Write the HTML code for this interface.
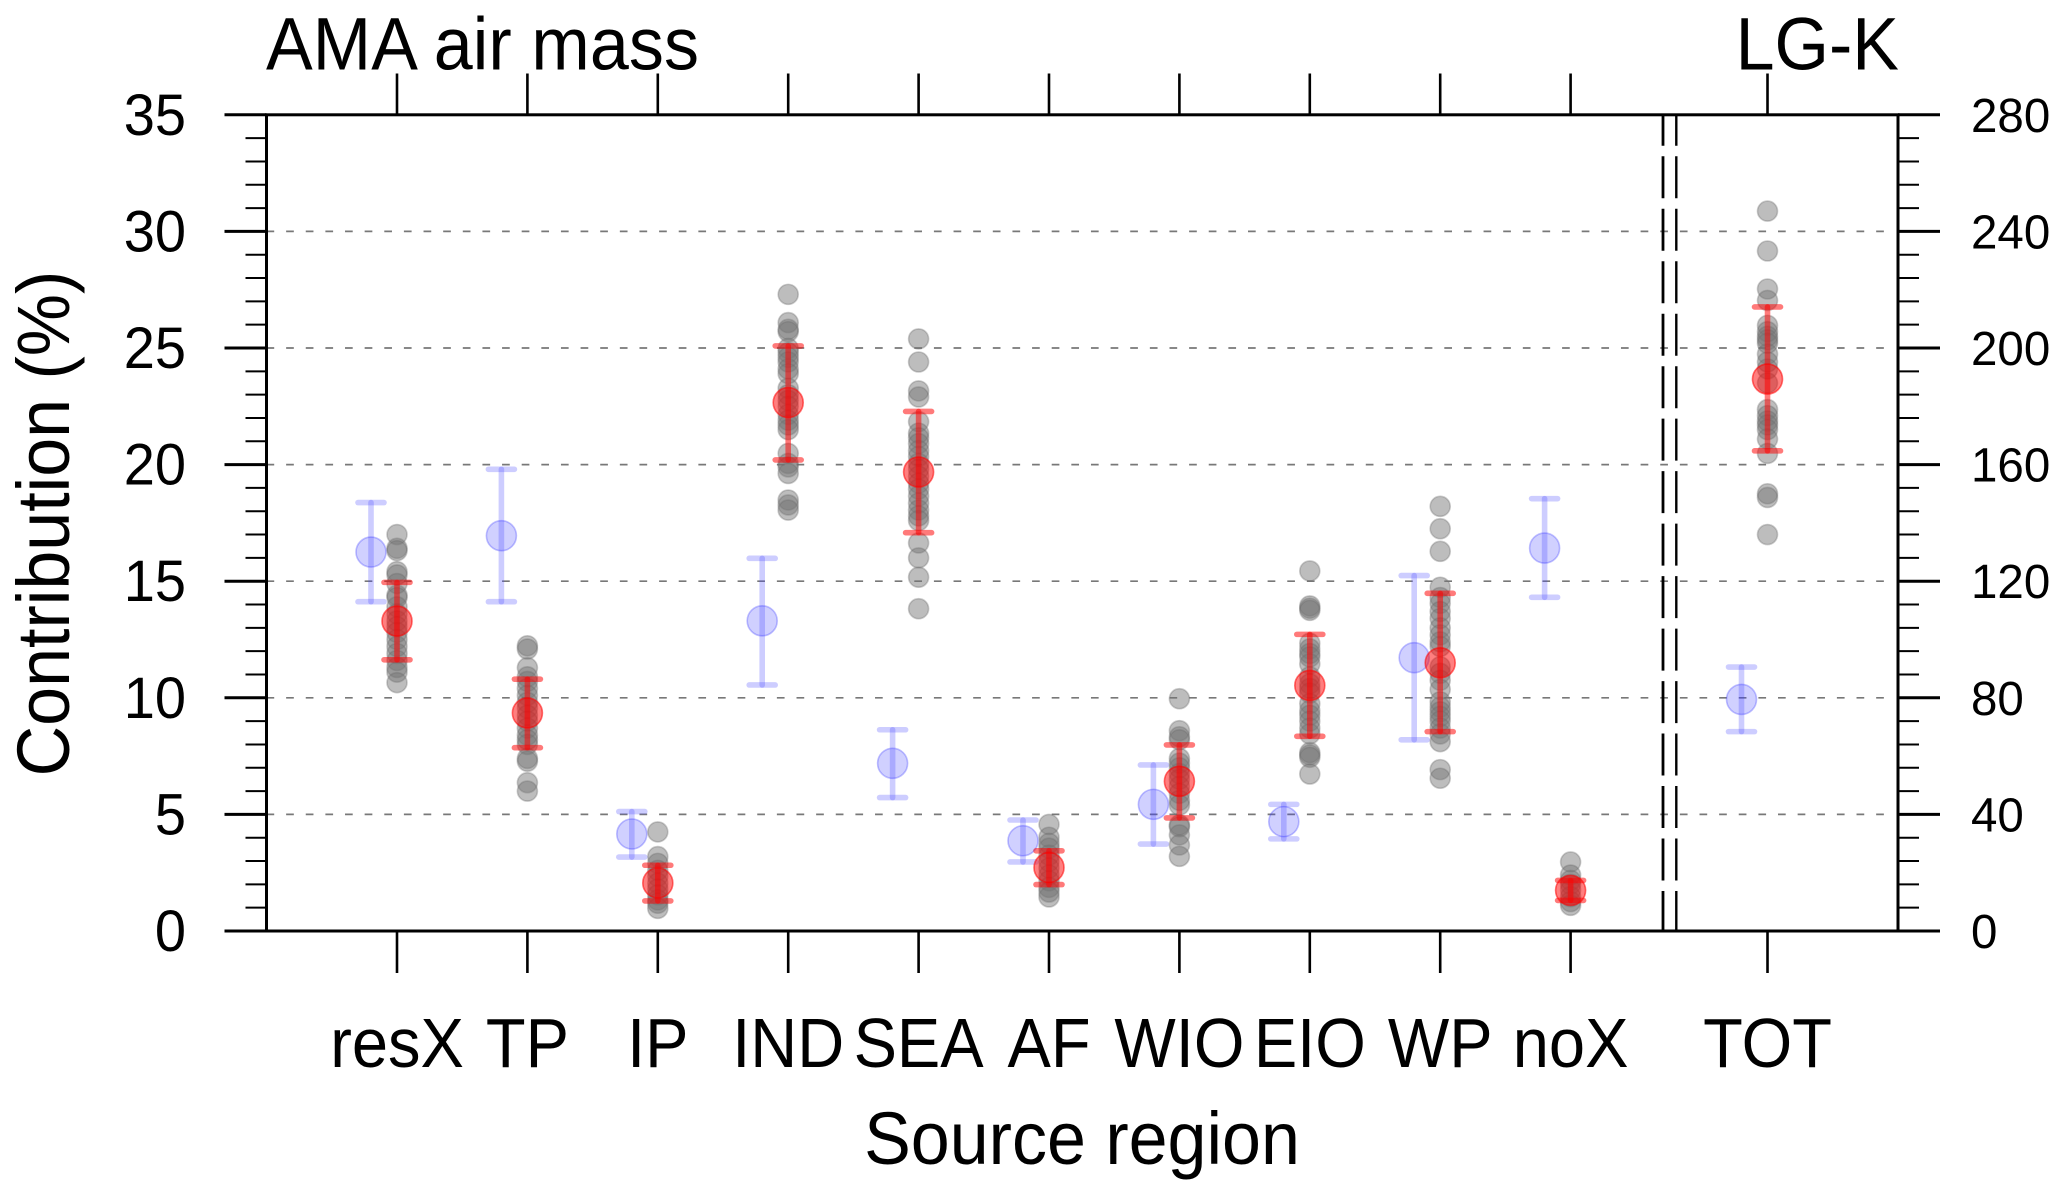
<!DOCTYPE html>
<html lang="en">
<head>
<meta charset="utf-8">
<title>AMA air mass contribution by source region</title>
<style>
  html, body { margin: 0; padding: 0; background: #fff; }
  svg { display: block; font-family: "Liberation Sans", Arial, sans-serif; }
  text { fill: #000; }
</style>
</head>
<body>
<svg id="chart" xmlns="http://www.w3.org/2000/svg" width="2067" height="1198" viewBox="0 0 2067 1198">
  <rect x="0" y="0" width="2067" height="1198" fill="#fff"/>
  <g id="grid"></g>
  <g id="separator"></g>
  <g id="ticks"></g>
  <rect x="266.5" y="114.8" width="1631.5" height="816.2" fill="none" stroke="#000" stroke-width="3"/>
  <g id="labels"></g>
  <g id="ensemble"></g>
  <g id="reference"></g>
  <g id="mean"></g>
  <text transform="translate(266 69.6) scale(1 1.06)" font-size="70" textLength="433" lengthAdjust="spacing">AMA air mass</text>
  <text transform="translate(1899 69.6) scale(1 1.06)" font-size="70" text-anchor="end">LG-K</text>
  <text transform="translate(1082 1164) scale(1 1.06)" font-size="70" text-anchor="middle">Source region</text>
  <text transform="translate(69 523.5) rotate(-90) scale(1 1.06)" font-size="70" text-anchor="middle">Contribution (%)</text>
</svg>
<script>
const categories = ["resX", "TP", "IP", "IND", "SEA", "AF", "WIO", "EIO", "WP", "noX", "TOT"];
const leftTickValues = [0, 5, 10, 15, 20, 25, 30, 35];
const rightTickLabels = ["0", "40", "80", "120", "160", "200", "240", "280"];
const gridValues = [5, 10, 15, 20, 25, 30];

const referenceMeans = [16.25, 16.95, 4.16, 13.3, 7.19, 3.87, 5.43, 4.69, 11.72, 16.42, 9.93];
const referenceLower = [14.12, 14.12, 3.17, 10.55, 5.72, 2.96, 3.73, 3.95, 8.2, 14.31, 8.55];
const referenceUpper = [18.37, 19.8, 5.12, 15.98, 8.63, 4.76, 7.12, 5.43, 15.24, 18.54, 11.32];

const meanValues = [13.29, 9.35, 2.06, 22.66, 19.68, 2.72, 6.42, 10.53, 11.5, 1.74, 23.67];
const meanLower = [11.63, 7.86, 1.29, 20.2, 17.08, 1.99, 4.85, 8.35, 8.55, 1.31, 20.59];
const meanUpper = [14.95, 10.8, 2.82, 25.09, 22.28, 3.44, 7.98, 12.72, 14.48, 2.17, 26.76];

const membersResX = [17.0, 16.41, 16.31, 15.41, 15.27, 14.9, 14.4, 14.3, 13.9, 13.6, 13.3, 13.05, 12.8, 12.5, 12.2, 11.9, 11.6, 11.3, 11.1, 10.65];
const membersTP = [12.23, 12.09, 11.29, 10.9, 10.7, 10.4, 10.1, 9.8, 9.55, 9.25, 9.0, 8.7, 8.4, 8.2, 8.0, 7.4, 7.28, 6.36, 6.0];
const membersIP = [4.25, 3.19, 2.9, 2.6, 2.35, 2.05, 1.8, 1.55, 1.33, 1.19, 0.97];
const membersIND = [27.3, 26.09, 25.8, 25.7, 24.98, 24.8, 24.6, 24.4, 24.1, 23.9, 23.27, 23.0, 22.75, 22.5, 22.15, 21.9, 21.7, 21.5, 20.48, 20.05, 19.9, 19.62, 18.48, 18.27, 18.05];
const membersSEA = [25.39, 24.4, 23.16, 22.9, 21.84, 21.35, 21.15, 20.9, 20.6, 20.35, 20.05, 19.8, 19.5, 19.2, 18.95, 18.65, 18.35, 18.05, 17.8, 17.6, 16.64, 16.0, 15.17, 13.82];
const membersAF = [4.57, 4.02, 3.76, 3.55, 3.25, 2.98, 2.7, 2.4, 2.15, 1.87, 1.67, 1.46];
const membersWIO = [9.96, 8.59, 8.33, 8.2, 7.4, 7.2, 7.0, 6.75, 6.5, 6.2, 5.9, 5.6, 5.4, 4.55, 4.47, 4.12, 3.69, 3.2];
const membersEIO = [15.44, 13.94, 13.84, 13.75, 12.34, 12.1, 11.9, 11.75, 11.45, 10.9, 10.6, 10.4, 10.2, 9.75, 9.45, 9.25, 9.0, 8.7, 8.45, 7.65, 7.55, 7.45, 6.73];
const membersWP = [18.21, 17.25, 16.28, 14.74, 14.3, 14.05, 13.7, 13.4, 13.0, 12.7, 12.4, 12.2, 11.33, 11.05, 10.75, 10.36, 9.83, 9.6, 9.4, 9.2, 9.0, 8.7, 8.45, 8.12, 6.92, 6.55];
const membersNoX = [2.96, 2.4, 2.17, 2.0, 1.76, 1.47, 1.26, 1.1];
const membersTOT = [30.87, 29.16, 27.53, 27.04, 25.97, 25.7, 25.5, 25.35, 25.2, 24.74, 24.4, 24.1, 23.5, 22.36, 22.1, 21.87, 21.7, 21.5, 21.1, 20.48, 18.75, 18.59, 17.0];
const membersByCategory = [membersResX, membersTP, membersIP, membersIND, membersSEA, membersAF, membersWIO, membersEIO, membersWP, membersNoX, membersTOT];

const SVG_NS = "http://www.w3.org/2000/svg";
const plotLeft = 266.5, plotRight = 1898, plotTop = 114.8, plotBottom = 931;
const yMax = 35;
const firstCategoryX = 397, categoryStep = 130.4, totalGapSteps = 0.51, referenceOffset = -26;

function yOf(v) { return plotBottom - (plotBottom - plotTop) * v / yMax; }
function xOf(i) {
  const gap = i === categories.length - 1 ? totalGapSteps : 0;
  return firstCategoryX + categoryStep * (i + gap);
}
function make(tag, parent, attrs, text) {
  const el = document.createElementNS(SVG_NS, tag);
  for (const k in attrs) el.setAttribute(k, attrs[k]);
  if (text !== undefined) el.textContent = text;
  parent.appendChild(el);
  return el;
}

const gridG = document.getElementById("grid");
const sepG = document.getElementById("separator");
const ticksG = document.getElementById("ticks");
const labelsG = document.getElementById("labels");
const ensembleG = document.getElementById("ensemble");
const referenceG = document.getElementById("reference");
const meanG = document.getElementById("mean");

/* grid */
gridValues.forEach(function (v) {
  const el = make("line", gridG, { x1: plotLeft, x2: 1886, y1: yOf(v), y2: yOf(v), stroke: "#787878", "stroke-width": 1.7, "stroke-dasharray": "7.7 11.93" });
  
  
});

/* separator between regions and total */
[[1663, 2.8], [1676.3, 2.4]].forEach(function (s, n) {
  const el = make("line", sepG, { x1: s[0], x2: s[0], y1: plotTop, y2: plotBottom, stroke: "#000", "stroke-width": s[1], "stroke-dasharray": "42 10.48", "stroke-dashoffset": 11 });
  
  
});

/* y ticks: major every 5, minor every 1, both sides */
for (let v = 0; v <= yMax; v++) {
  const major = v % 5 === 0;
  const len = major ? 42 : 21;
  const sw = major ? 3 : 2;
  const left = make("line", ticksG, { x1: plotLeft - len, x2: plotLeft, y1: yOf(v), y2: yOf(v), stroke: "#000", "stroke-width": sw });
  
  
  const right = make("line", ticksG, { x1: plotRight, x2: plotRight + len, y1: yOf(v), y2: yOf(v), stroke: "#000", "stroke-width": sw });
  
  
}

/* y tick labels */
leftTickValues.forEach(function (v, n) {
  const l = make("text", labelsG, { transform: "translate(186 " + (yOf(v) + 20) + ") scale(1 1.04)", "font-size": 56, "text-anchor": "end" }, String(v));
  
  
  const r = make("text", labelsG, { transform: "translate(1971 " + (yOf(v) + 17) + ") scale(1 1.02)", "font-size": 47.5 }, rightTickLabels[n]);
  
  
});

/* x ticks and labels */
categories.forEach(function (c, i) {
  const x = xOf(i);
  const top = make("line", ticksG, { x1: x, x2: x, y1: 73.5, y2: plotTop, stroke: "#000", "stroke-width": 2.6 });
  
  
  const bottom = make("line", ticksG, { x1: x, x2: x, y1: plotBottom, y2: 973, stroke: "#000", "stroke-width": 2.6 });
  
  
  const label = make("text", labelsG, { transform: "translate(" + x + " 1067) scale(1 1.07)", "font-size": 65, "text-anchor": "middle" }, c);
  
  
});

/* ensemble members */
membersByCategory.forEach(function (values, i) {
  values.forEach(function (v, n) {
    const el = make("circle", ensembleG, { cx: xOf(i), cy: yOf(v), r: 10, fill: "rgb(118,118,118)", "fill-opacity": 0.48, stroke: "rgb(110,110,110)", "stroke-opacity": 0.35, "stroke-width": 1.6 });
    
    
  });
});

/* mean + range glyph */
function drawGlyph(parent, x, value, low, high, color, barOpacity, fillOpacity, strokeOpacity, key, series) {
  const bar = make("line", parent, { x1: x, x2: x, y1: yOf(high), y2: yOf(low), stroke: color, "stroke-width": 5.6, "stroke-opacity": barOpacity, "stroke-linecap": "round" });
  
  
  const capTop = make("line", parent, { x1: x - 13, x2: x + 13, y1: yOf(high), y2: yOf(high), stroke: color, "stroke-width": 5.6, "stroke-opacity": barOpacity, "stroke-linecap": "round" });
  
  
  const capLow = make("line", parent, { x1: x - 13, x2: x + 13, y1: yOf(low), y2: yOf(low), stroke: color, "stroke-width": 5.6, "stroke-opacity": barOpacity, "stroke-linecap": "round" });
  
  
  const dot = make("circle", parent, { cx: x, cy: yOf(value), r: 15, fill: color, "fill-opacity": fillOpacity, stroke: color, "stroke-opacity": strokeOpacity, "stroke-width": 1.6 });
  
  
}

categories.forEach(function (c, i) {
  drawGlyph(referenceG, xOf(i) + referenceOffset, referenceMeans[i], referenceLower[i], referenceUpper[i], "rgb(60,60,255)", 0.26, 0.24, 0.32, c, 'reference');
});
categories.forEach(function (c, i) {
  drawGlyph(meanG, xOf(i), meanValues[i], meanLower[i], meanUpper[i], "rgb(255,0,0)", 0.52, 0.5, 0.55, c, 'mean');
});
</script>
</body>
</html>
